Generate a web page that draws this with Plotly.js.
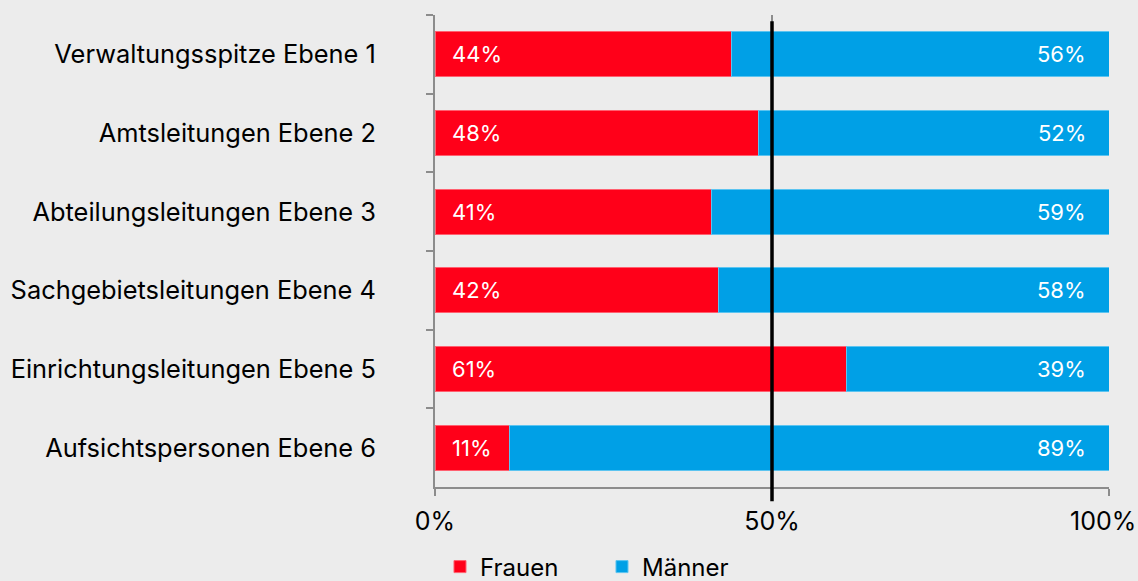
<!DOCTYPE html>
<html>
<head>
<meta charset="utf-8">
<script src="https://cdn.plot.ly/plotly-3.0.1.min.js"></script>
<style>html,body{margin:0;padding:0;background:#ececec;}#chart{width:1138px;height:581px;}</style>
</head>
<body>
<div id="chart"></div>
<script>
var categories = ["Verwaltungsspitze Ebene 1","Amtsleitungen Ebene 2","Abteilungsleitungen Ebene 3","Sachgebietsleitungen Ebene 4","Einrichtungsleitungen Ebene 5","Aufsichtspersonen Ebene 6"];
var frauen = [44, 48, 41, 42, 61, 11];
var maenner = [56, 52, 59, 58, 39, 89];
var xTicks = [0, 50, 100];
var xTickLabels = ["0%", "50%", "100%"];

var FONT = "Inter, Roboto, sans-serif";
var RED = "#ff0019";
var BLUE = "#00a0e6";

var traces = [
  {type:"bar", orientation:"h", name:"Frauen", y:categories, x:frauen,
   marker:{color:RED, line:{color:"#ff6070", width:1}}, hoverinfo:"none"},
  {type:"bar", orientation:"h", name:"Männer", y:categories, x:maenner,
   marker:{color:BLUE, line:{color:"#5cc4f0", width:1}}, hoverinfo:"none"}
];

var annotations = [];
categories.forEach(function(c, i){
  annotations.push({x:0, y:c, xref:"x", yref:"y", text:frauen[i] + "%", showarrow:false,
    xanchor:"left", xshift:15, font:{family:FONT, size:22, color:"#ffffff"}});
  annotations.push({x:100, y:c, xref:"x", yref:"y", text:maenner[i] + "%", showarrow:false,
    xanchor:"right", xshift:-21, font:{family:FONT, size:22, color:"#ffffff"}});
});
// last tick label, nudged left so it fits inside the figure (as in the reference)
var lastIdx = xTicks.length - 1;
annotations.push({x:xTicks[lastIdx], y:0, xref:"x", yref:"paper", text:xTickLabels[lastIdx], showarrow:false,
  xanchor:"center", yanchor:"middle", xshift:-6, yshift:-34, font:{family:FONT, size:25, color:"#000"}});

var shownTickText = xTickLabels.map(function(t, i){ return i === lastIdx ? "" : t; });

var layout = {
  width:1138, height:581,
  paper_bgcolor:"#ececec", plot_bgcolor:"#ececec",
  margin:{l:435, r:29, t:15, b:94, autoexpand:false},
  barmode:"stack", bargap:0.43,
  font:{family:FONT, color:"#000"},
  showlegend:true,
  legend:{orientation:"h", x:0.0074, xanchor:"left", y:-0.1695, yanchor:"middle",
    font:{family:FONT, size:24, color:"#000"}, traceorder:"normal", entrywidth:117,
    bgcolor:"rgba(0,0,0,0)"},
  xaxis:{range:[0,100], tickvals:xTicks, ticktext:shownTickText, showgrid:true, gridcolor:"#8c8c8c", gridwidth:2,
    zeroline:false, showline:true, linecolor:"#8c8c8c", linewidth:2, ticks:"outside", ticklen:7, tickwidth:2, tickcolor:"#8c8c8c",
    tickfont:{family:FONT, size:25, color:"#000"}, ticklabelstandoff:4, fixedrange:true},
  yaxis:{type:"category", autorange:"reversed", showline:true, linecolor:"#8c8c8c", linewidth:2,
    ticks:"outside", tickson:"boundaries", ticklen:7, tickwidth:2, tickcolor:"#8c8c8c", showgrid:false,
    tickfont:{family:FONT, size:25.4, color:"#000"}, ticklabelstandoff:52, fixedrange:true},
  shapes:[{type:"line", xref:"x", yref:"paper", x0:50, x1:50, y0:-0.03, y1:0.987, line:{color:"#000", width:3.5}}],
  annotations:annotations
};

Plotly.newPlot("chart", traces, layout, {displayModeBar:false, staticPlot:true});
</script>
</body>
</html>
